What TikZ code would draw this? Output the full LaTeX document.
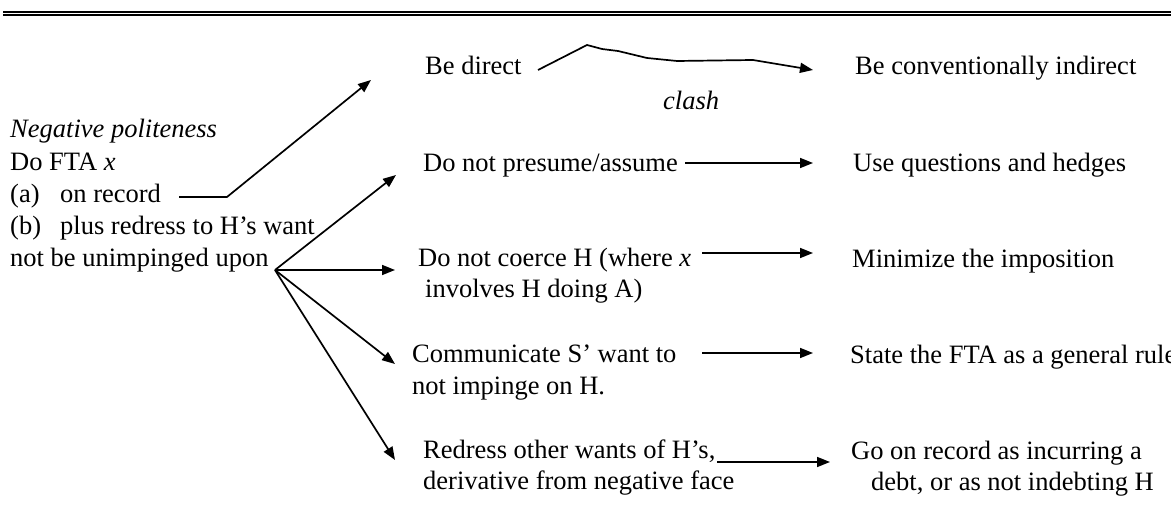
\documentclass[tikz,border=0pt]{standalone}
\usepackage{fontspec}
\setmainfont{Liberation Serif}
\usetikzlibrary{arrows.meta}
\begin{document}
\begin{tikzpicture}[x=1pt,y=-1pt,
  txt/.style={anchor=base west, inner sep=0pt, font=\fontsize{26.5}{30}\selectfont},
  conn/.style={line width=1.7pt, line join=round},
  arr/.style={conn, -{Triangle[length=13pt,width=10pt]}}]
\useasboundingbox (0,0) rectangle (1171,526);

% double rule along the top
\fill (3,11) rectangle (1171,12.8);
\fill (3,13.9) rectangle (1171,15.8);

% left: the strategy
\node[txt] (np)    at (10,138) {\textit{Negative politeness}};
\node[txt] (fta)   at (10,171) {Do FTA \textit{x}};
\node[txt] (reca)  at (10,203) {\makebox[50pt][l]{(a)}on record};
\node[txt] (redb)  at (10,235) {\makebox[50pt][l]{(b)}plus redress to H’s want};
\node[txt] (unimp) at (10,267) {not be unimpinged upon};

% middle column
\node[txt] (bd)   at (425,75)  {Be direct};
\node[txt] (clash) at (663,110) {\textit{clash}};
\node[txt] (dnp)  at (423,172) {Do not presume/assume};
\node[txt] (dnc)  at (418,267) {Do not coerce H (where \textit{x}};
\node[txt] (dnc2) at (425,298) {involves H doing A)};
\node[txt] (csw)  at (412,363) {Communicate S’ want to};
\node[txt] (csw2) at (412,395) {not impinge on H.};
\node[txt] (row)  at (423,459) {Redress other wants of H’s,};
\node[txt] (row2) at (423,490) {derivative from negative face};

% right column
\node[txt] (bci)  at (855,75)  {Be conventionally indirect};
\node[txt] (uqh)  at (853,172) {Use questions and hedges};
\node[txt] (mti)  at (852,268) {Minimize the imposition};
\node[txt] (sfta) at (850,364) {State the FTA as a general rule};
\node[txt] (gor)  at (851,460) {Go on record as incurring a};
\node[txt] (gor2) at (871,491) {debt, or as not indebting H};

% connector end points
\coordinate (hub)   at (275,270);
\coordinate (recS)  at (179,197);
\coordinate (recK)  at (227,197);
\coordinate (recT)  at (371,80);
\coordinate (bdS)   at (538,70);
\coordinate (bdT)   at (813,70);
\coordinate (dnpT)  at (396,175);
\coordinate (dncT)  at (395,270);
\coordinate (cswT)  at (395,364);
\coordinate (rowT)  at (395,460);
\coordinate (dnpS)  at (685,163);
\coordinate (uqhT)  at (813,163);
\coordinate (dncS)  at (702,253);
\coordinate (mtiT)  at (813,253);
\coordinate (cswS)  at (702,353);
\coordinate (sftaT) at (813,353);
\coordinate (rowS)  at (717,462);
\coordinate (gorT)  at (830,462);

% on record -> be direct
\draw[arr] (recS) -- (recK) -- (recT);
% redress branches
\draw[arr] (hub) -- (dnpT);
\draw[arr] (hub) -- (dncT);
\draw[arr] (hub) -- (cswT);
\draw[arr] (hub) -- (rowT);
% the clash line
\draw[arr] (bdS) -- (587,45) -- (602,49) -- (618,51) -- (647,58) -- (677,61) -- (753,60) -- (bdT);
% outputs
\draw[arr] (dnpS) -- (uqhT);
\draw[arr] (dncS) -- (mtiT);
\draw[arr] (cswS) -- (sftaT);
\draw[arr] (rowS) -- (gorT);
\end{tikzpicture}
\end{document}
